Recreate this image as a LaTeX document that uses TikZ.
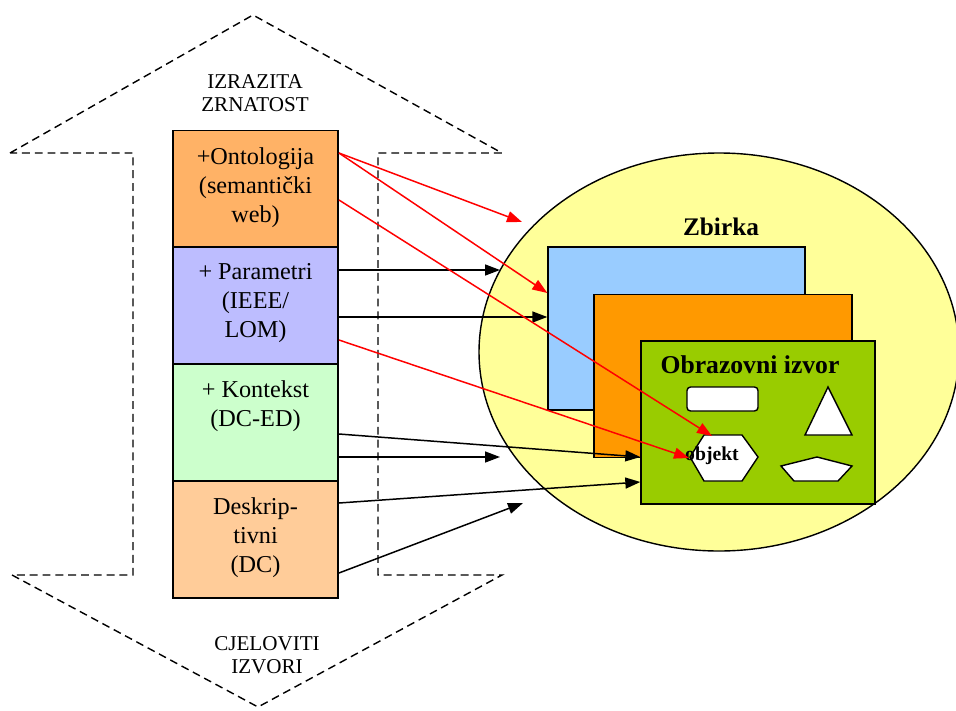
\documentclass[tikz,border=0pt]{standalone}
\usepackage{fontspec}
\setmainfont{Liberation Serif}
\usetikzlibrary{arrows.meta}

\definecolor{ontocol}{RGB}{255,178,102}
\definecolor{paramcol}{RGB}{189,189,255}
\definecolor{kontcol}{RGB}{204,255,204}
\definecolor{desccol}{RGB}{255,204,153}
\definecolor{zbirkacol}{RGB}{255,255,153}
\definecolor{sheetblue}{RGB}{153,204,255}
\definecolor{sheetorange}{RGB}{255,153,0}
\definecolor{sheetgreen}{RGB}{153,204,0}

\begin{document}
\begin{tikzpicture}[x=0.02cm,y=-0.02cm,
  layer/.style={draw,line width=1.1pt,minimum width=3.3cm,minimum height=2.34cm,inner sep=0pt},
  boxtext/.style={anchor=north,inner sep=0pt,yshift=-0.35cm,align=center,font=\fontsize{13.8}{16.5}\selectfont},
  sheet/.style={draw,line width=0.8pt,minimum height=3.26cm,inner sep=0pt},
  piece/.style={draw,fill=white,line width=0.8pt},
  link/.style={line width=0.85pt,-{Triangle[length=0.3cm,width=0.22cm]}},
  hint/.style={align=center,font=\fontsize{12}{12.8}\selectfont}]
\useasboundingbox (0,0) rectangle (956,710);

% dashed double arrow
\draw[line width=0.8pt,dash pattern=on 4.5pt off 2.8pt]
  (10,153) -- (253,15) -- (502,153) -- (378,153) -- (378,575) -- (502,575)
  -- (258,707) -- (12,575) -- (133,575) -- (133,153) -- cycle;
\node[hint] (fine) at (255,93) {IZRAZITA\\ZRNATOST};
\node[hint] (whole) at (267,655) {CJELOVITI\\IZVORI};

% metadata layers
\node[layer,fill=ontocol,label={[boxtext]north:{+Ontologija\\(semantički\\web)}}] (onto) at (255.5,189) {};
\node[layer,fill=paramcol,label={[boxtext]north:{+ Parametri\\(IEEE/\\LOM)}}] (param) at (255.5,305.5) {};
\node[layer,fill=kontcol,label={[boxtext]north:{+ Kontekst\\(DC-ED)}}] (kont) at (255.5,422.5) {};
\node[layer,fill=desccol,label={[boxtext]north:{Deskrip-\\tivni\\(DC)}}] (desc) at (255.5,539.5) {};

% collection
\draw[line width=0.8pt,fill=zbirkacol] (719,352) ellipse [x radius=240,y radius=199];
\node[font=\fontsize{14.4}{16}\selectfont\bfseries] (zbirka) at (721,227) {Zbirka};
\node[sheet,fill=sheetblue,minimum width=5.14cm] (blue) at (676.5,328.5) {};
\node[sheet,fill=sheetorange,minimum width=5.16cm] (orange) at (723,376) {};
\node[sheet,fill=sheetgreen,minimum width=4.68cm] (green) at (758,422.5) {};
\node[font=\fontsize{14.6}{16}\selectfont\bfseries] (izvor) at (750,365) {Obrazovni izvor};

% shapes in the resource
\draw[piece,rounded corners=2pt] (687,387) rectangle (758,411);
\draw[piece] (828,387) -- (852,435) -- (805,435) -- cycle;
\draw[piece] (690,457) -- (704,435) -- (742,435) -- (758,457) -- (742,481) -- (704,481) -- cycle;
\draw[piece] (817,457) -- (852,466) -- (838,481) -- (794,481) -- (781,466) -- cycle;
\node[font=\fontsize{11.2}{13}\selectfont\bfseries] (obj) at (712,456) {objekt};
\coordinate (hexN) at (712,436);
\coordinate (hexW) at (689,458);

% free ends
\coordinate (rim1) at (522,222);
\coordinate (rim2) at (500,270);
\coordinate (rim3) at (500,457);
\coordinate (rim4) at (523,503);

% black links
\draw[link] (param.east |- 0,270) -- (rim2);
\draw[link] (param.east |- 0,317) -- (blue.west |- 0,317);
\draw[link] (kont.east |- 0,434) -- (green.west |- 0,457);
\draw[link] (kont.east |- 0,457) -- (rim3);
\draw[link] (desc.east |- 0,503) -- (green.west |- 0,482);
\draw[link] (desc.east |- 0,573) -- (rim4);

% red links
\draw[link,red] (onto.east |- 0,153) -- (rim1);
\draw[link,red] (onto.east |- 0,153) -- (blue.west |- 0,293);
\draw[link,red] (onto.east |- 0,200) -- (hexN);
\draw[link,red] (param.east |- 0,340) -- (hexW);
\end{tikzpicture}
\end{document}
